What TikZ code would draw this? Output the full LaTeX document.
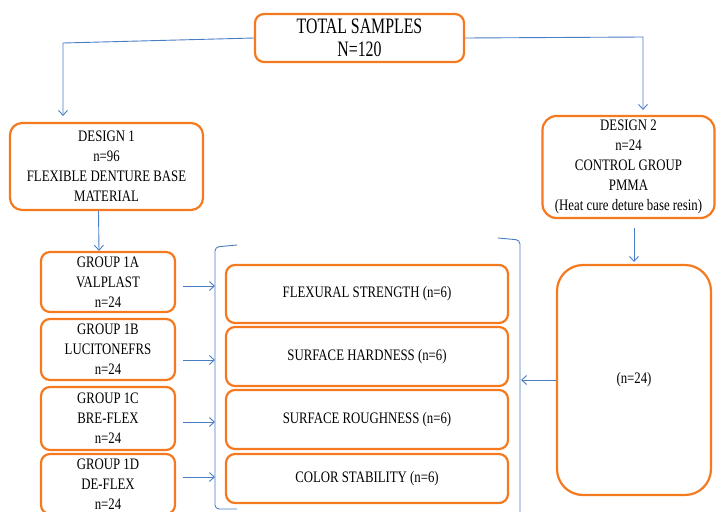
\documentclass[tikz,border=0pt]{standalone}
\usepackage{fontspec}
\setmainfont{Liberation Serif}[FakeStretch=0.8]
\newfontfamily\titlefont{Liberation Serif}[FakeStretch=0.72]
\usetikzlibrary{arrows.meta}
\definecolor{boxorange}{HTML}{F57A1F}
\definecolor{lineblue}{HTML}{4A7EC4}
\tikzset{
  box/.style={draw=boxorange, line width=2.2pt, rounded corners=9pt, fill=white,
    align=center, inner sep=0pt, font=\fontsize{16}{20}\selectfont},
  conn/.style={draw=lineblue, line width=0.9pt},
  arr/.style={conn, -{Straight Barb[length=5pt,width=9pt]}},
}
\begin{document}
\begin{tikzpicture}[x=1pt,y=-1pt]
\useasboundingbox (0,0) rectangle (716,512);
% boxes
\node[box, minimum width=209pt, minimum height=48pt, font=\titlefont\fontsize{22}{23}\selectfont] (total) at (359.5,38) {TOTAL SAMPLES\\N=120};
\node[box, minimum width=193pt, minimum height=87pt, rounded corners=12pt] (d1) at (106.5,166.5) {DESIGN 1\\n=96\\FLEXIBLE DENTURE BASE\\MATERIAL};
\node[box, minimum width=172pt, minimum height=102pt, rounded corners=14pt] (d2) at (628.5,167) {DESIGN 2\\n=24\\CONTROL GROUP\\PMMA\\(Heat cure deture base resin)};
\node[box, minimum width=134pt, minimum height=60pt] (g1a) at (108,282) {GROUP 1A\\VALPLAST\\n=24};
\node[box, minimum width=134pt, minimum height=61pt] (g1b) at (108,349.5) {GROUP 1B\\LUCITONEFRS\\n=24};
\node[box, minimum width=134pt, minimum height=63pt] (g1c) at (108,418.5) {GROUP 1C\\BRE-FLEX\\n=24};
\node[box, minimum width=134pt, minimum height=60pt] (g1d) at (108,484) {GROUP 1D\\DE-FLEX\\n=24};
\node[box, minimum width=282pt, minimum height=58pt] (flex) at (367,294) {FLEXURAL STRENGTH (n=6)};
\node[box, minimum width=282pt, minimum height=59pt] (hard) at (367,356.5) {SURFACE HARDNESS (n=6)};
\node[box, minimum width=282pt, minimum height=59pt] (rough) at (367,419.5) {SURFACE ROUGHNESS (n=6)};
\node[box, minimum width=282pt, minimum height=49pt] (color) at (367,478.5) {COLOR STABILITY (n=6)};
\node[box, minimum width=154pt, minimum height=230pt, rounded corners=26pt] (ctrl) at (634,380) {(n=24)};
% coordinates
\coordinate (tl) at (63,43);
\coordinate (tlend) at (63,116);
\coordinate (tr) at (643,37);
\coordinate (trend) at (643,110);
\coordinate (ba) at (215,286);
\coordinate (bb) at (215,360);
\coordinate (bc) at (215,422);
\coordinate (bd) at (215,477);
\coordinate (br) at (521,380);
\coordinate (d2a) at (634,228);
\coordinate (d2b) at (634,262);
% connectors
\draw[arr] (total.west) -- (tl) -- (tlend);
\draw[arr] (total.east) -- (tr) -- (trend);
\draw[arr] ([xshift=-8pt]d1.south) -- ([xshift=-9pt]g1a.north);
\draw[arr] ([xshift=7pt]ba -| g1a.east) -- (ba);
\draw[arr] ([xshift=7pt]bb -| g1b.east) -- (bb);
\draw[arr] ([xshift=7pt]bc -| g1c.east) -- (bc);
\draw[arr] ([xshift=7pt]bd -| g1d.east) -- (bd);
\draw[arr] (ctrl.west) -- (br);
\draw[arr] (d2a) -- (d2b);
% brackets
\draw[conn, rounded corners=4pt] (237,245) -- (215,247) -- (215,509) -- (237,509);
\draw[conn, rounded corners=4pt] (498,238) -- (520,240) -- (520,515);
\end{tikzpicture}
\end{document}
